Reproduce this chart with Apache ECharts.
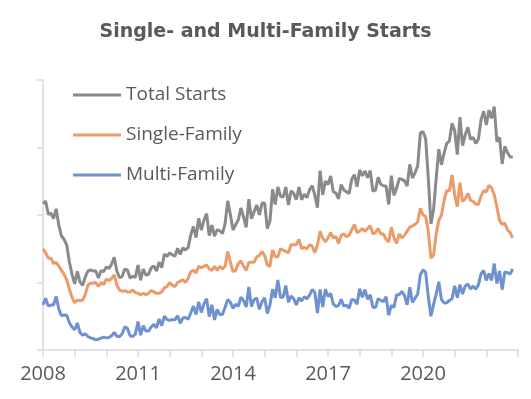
<!DOCTYPE html>
<html>
<head>
<meta charset="utf-8">
<script src="https://cdn.jsdelivr.net/npm/echarts@6/dist/echarts.min.js"></script>
<style>
  html, body { margin: 0; padding: 0; background: #fff; }
  #container { width: 531px; height: 399px; }
</style>
</head>
<body>
<div id="container"></div>
<script>
// monthly starts, thousands of units (SAAR), Jan 2008 .. Nov 2022
const totalStarts = [
  1084, 1103, 1005, 1013, 973, 1046, 923, 844, 820, 777, 652, 560,
  490, 582, 505, 478, 540, 585, 594, 586, 585, 534, 588, 581,
  614, 604, 636, 687, 583, 536, 546, 599, 593, 534, 545, 539,
  630, 517, 600, 554, 561, 608, 623, 585, 650, 610, 711, 694,
  720, 704, 695, 753, 708, 757, 741, 758, 854, 915, 833, 976,
  888, 962, 1010, 847, 925, 843, 891, 883, 863, 936, 1105, 1003,
  888, 929, 963, 1052, 985, 909, 1117, 972, 1024, 1074, 1001, 1088,
  1087, 900, 954, 1190, 1077, 1208, 1139, 1132, 1207, 1074, 1179, 1160,
  1114, 1207, 1113, 1155, 1128, 1186, 1218, 1148, 1054, 1328, 1149, 1251,
  1226, 1289, 1172, 1162, 1120, 1225, 1185, 1172, 1159, 1265, 1299, 1209,
  1334, 1290, 1327, 1276, 1329, 1177, 1184, 1280, 1228, 1217, 1214, 1078,
  1291, 1145, 1199, 1270, 1264, 1253, 1215, 1375, 1274, 1314, 1365, 1608,
  1617, 1567, 1276, 934, 1038, 1273, 1487, 1373, 1459, 1530, 1547, 1680,
  1625, 1447, 1725, 1514, 1594, 1650, 1562, 1573, 1530, 1563, 1706, 1768,
  1666, 1777, 1716, 1803, 1543, 1575, 1377, 1508, 1463, 1432, 1427
];
const singleFamily = [
  750, 720, 680, 680, 640, 650, 620, 590, 560, 520, 450, 390,
  350, 370, 365, 370, 410, 480, 495, 495, 500, 470, 500, 485,
  525, 515, 530, 556, 480, 445, 435, 440, 430, 430, 445, 425,
  420, 410, 420, 410, 420, 440, 430, 420, 420, 430, 460, 470,
  500, 480, 470, 500, 510, 520, 500, 530, 580, 590, 570, 620,
  610, 620, 630, 600, 590, 620, 590, 620, 600, 620, 730, 650,
  580, 590, 640, 660, 620, 590, 650, 650, 650, 690, 700, 730,
  700, 630, 620, 740, 690, 690, 750, 740, 730, 720, 780, 780,
  780, 820, 750, 760, 750, 780, 770, 720, 780, 880, 830, 800,
  830, 870, 830, 840, 790, 850, 860, 840, 850, 890, 930, 870,
  880, 900, 880, 900, 920, 860, 870, 900, 860, 860, 820, 800,
  910, 830, 790, 860, 830, 850, 880, 910, 920, 930, 950, 1050,
  1000, 990, 880, 680, 700, 860, 960, 1000, 1110, 1180, 1180, 1296,
  1150, 1060, 1240, 1100, 1120, 1160, 1110, 1100, 1080, 1080, 1140, 1180,
  1170, 1220, 1200, 1150, 1060, 960, 930, 940, 890, 870, 830
];
const multiFamily = [
  334, 383, 325, 333, 333, 396, 303, 254, 260, 257, 202, 170,
  150, 200, 130, 110, 120, 100, 90, 85, 75, 80, 88, 95,
  90, 92, 105, 130, 102, 98, 120, 172, 160, 105, 100, 118,
  210, 110, 180, 140, 140, 170, 190, 165, 230, 180, 250, 225,
  220, 225, 225, 253, 198, 237, 241, 228, 274, 325, 263, 356,
  278, 342, 380, 247, 335, 223, 301, 263, 263, 316, 375, 353,
  308, 339, 323, 392, 365, 319, 467, 322, 374, 384, 301, 358,
  387, 270, 334, 450, 387, 518, 389, 392, 477, 354, 399, 380,
  334, 387, 363, 395, 378, 406, 448, 428, 274, 448, 319, 451,
  396, 419, 342, 322, 330, 375, 325, 332, 309, 375, 369, 339,
  454, 390, 447, 376, 409, 317, 314, 380, 368, 357, 394, 258,
  331, 315, 409, 410, 434, 403, 335, 465, 354, 384, 415, 558,
  593, 577, 396, 250, 338, 413, 506, 373, 349, 350, 367, 380,
  475, 387, 485, 414, 474, 490, 452, 473, 450, 483, 566, 588,
  516, 567, 516, 640, 493, 585, 447, 578, 573, 562, 600
];
const seriesNames = ['Total Starts', 'Single-Family', 'Multi-Family'];
const firstYear = 2008;
const lastYear = 2023;
const labelYears = [2008, 2011, 2014, 2017, 2020];

// month categories Jan 2008 .. Jan 2023
let months = [];
for (let y = firstYear; y <= lastYear; y++) {
  for (let m = 1; m <= 12; m++) {
    if (y === lastYear && m > 1) break;
    months.push(y + '-' + (m < 10 ? '0' + m : m));
  }
}

const textColor = '#595959';
const axisColor = '#d9d9d9';
const colors = ['#8a8a8a', '#eb9b68', '#7091cf'];

let mychart = echarts.init(document.getElementById('container'));

let options = {
  animation: false,
  color: colors,
  title: {
    text: 'Single- and Multi-Family Starts',
    left: 'center',
    top: 18,
    textStyle: {
      color: textColor,
      fontFamily: 'DejaVu Sans',
      fontWeight: 'bold',
      fontSize: 19
    }
  },
  legend: {
    orient: 'vertical',
    left: 73,
    top: 84,
    padding: 0,
    icon: 'rect',
    itemWidth: 48,
    itemHeight: 3,
    itemGap: 18,
    data: seriesNames,
    textStyle: {
      color: textColor,
      fontFamily: 'Open Sans',
      fontSize: 19,
      lineHeight: 22
    }
  },
  grid: {
    left: 43,
    right: 13,
    top: 80,
    bottom: 49,
    containLabel: false,
    outerBoundsMode: 'none'
  },
  xAxis: {
    type: 'category',
    data: months,
    boundaryGap: false,
    axisLine: { lineStyle: { color: axisColor, width: 1.5 } },
    axisTick: {
      length: 7,
      lineStyle: { color: axisColor, width: 1.5 },
      interval: (i) => i % 12 === 0
    },
    axisLabel: {
      color: textColor,
      fontFamily: 'Open Sans',
      fontSize: 20,
      margin: 14,
      interval: (i, v) => labelYears.indexOf(+v.slice(0, 4)) >= 0 && v.slice(5) === '01',
      formatter: (v) => v.slice(0, 4)
    },
    splitLine: { show: false }
  },
  yAxis: {
    type: 'value',
    min: 0,
    max: 2000,
    interval: 500,
    axisLine: { show: true, lineStyle: { color: axisColor, width: 1.5 } },
    axisTick: { show: true, length: 6, lineStyle: { color: axisColor, width: 1.5 } },
    axisLabel: { show: false },
    splitLine: { show: false }
  },
  series: [totalStarts, singleFamily, multiFamily].map((d, k) => ({
    name: seriesNames[k],
    type: 'line',
    data: d,
    symbol: 'none',
    lineStyle: { width: 3 }
  }))
};

mychart.setOption(options);
</script>
</body>
</html>
